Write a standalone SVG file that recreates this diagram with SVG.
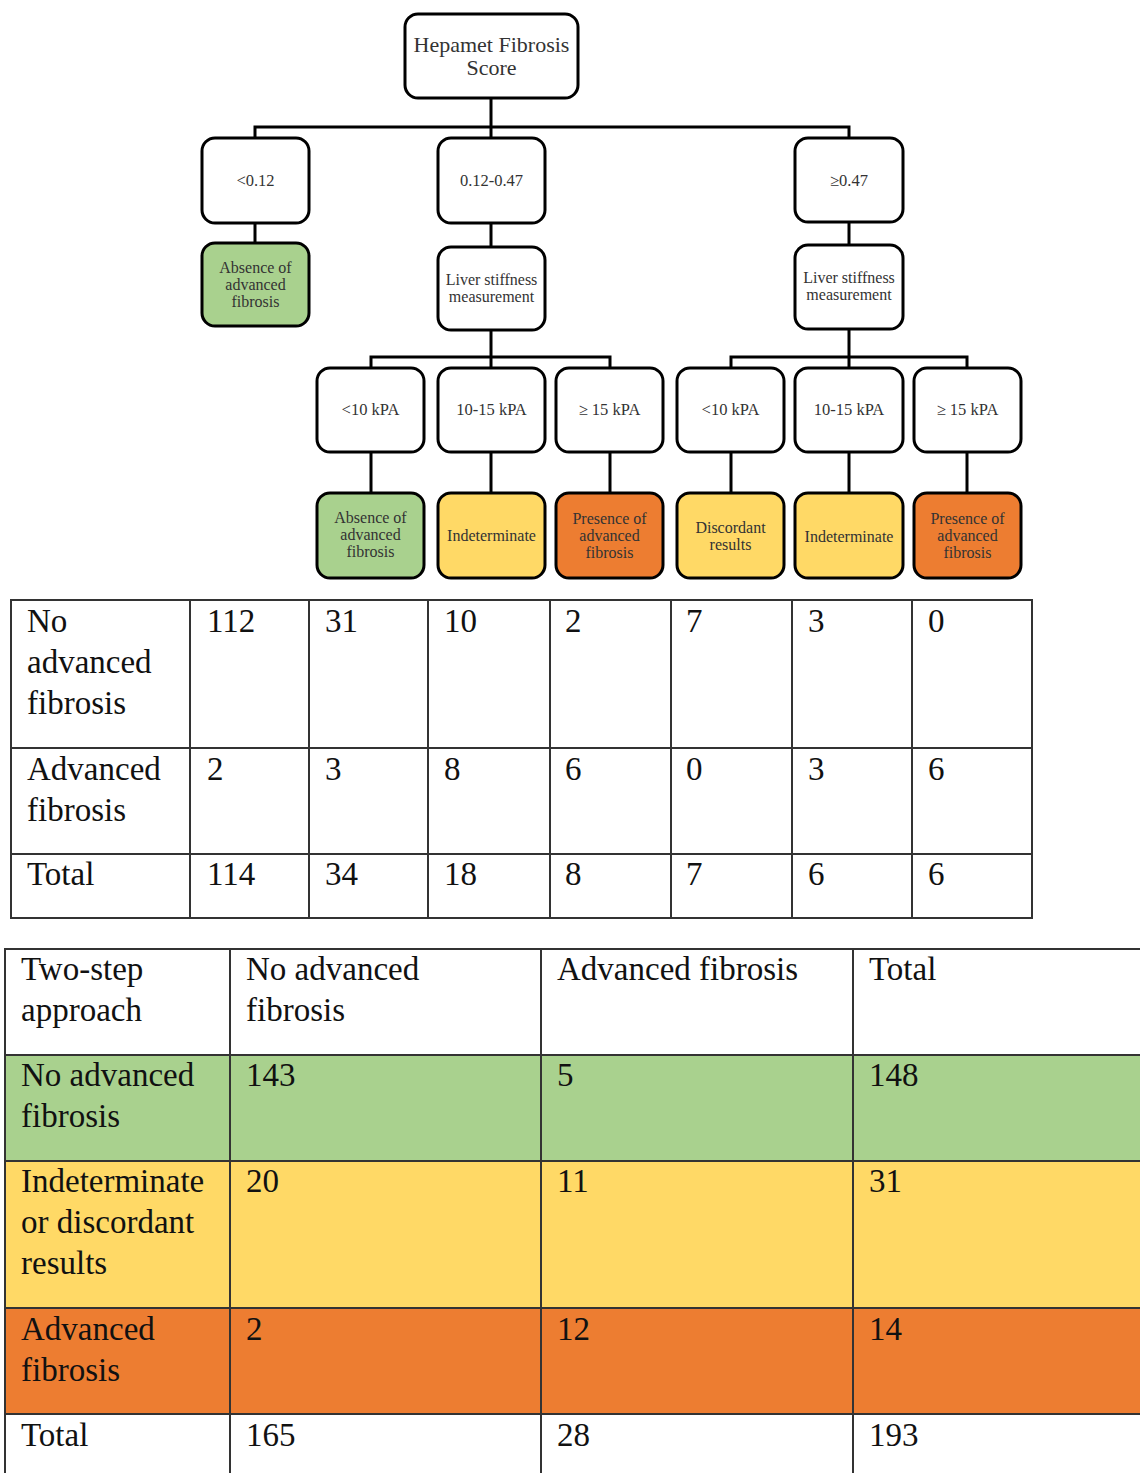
<svg xmlns="http://www.w3.org/2000/svg" width="1140" height="1473" viewBox="0 0 1140 1473">
<style>
.node{fill:#fff;stroke:#000;stroke-width:3}
.g{fill:#a9d18e}.y{fill:#ffd966}.o{fill:#ed7d31}
.nt{font-size:16px;fill:#333;text-anchor:middle}
.s{font-size:16.5px}
.big{font-size:22px}
.conn{fill:none;stroke:#000;stroke-width:3}
.tb{fill:none;stroke:#333;stroke-width:2}
.tt{font-size:33px;fill:#111}
</style>
<rect width="1140" height="1473" fill="#fff"/>
<g id="connectors">
<path class="conn" d="M491,98V127M255,138V127H849V138M491,127V138"/>
<path class="conn" d="M255,223V243M491,223V247M849,222V245"/>
<path class="conn" d="M491,330V357M371,368V357H610V368M491,357V368"/>
<path class="conn" d="M849,329V357M731,368V357H967V368M849,357V368"/>
<path class="conn" d="M371,452V493M491,452V493M610,452V493M731,452V493M849,452V493M967,452V493"/>
</g>
<g font-family="'Liberation Serif', 'Times New Roman', serif">
<g id="root"><rect class="node" x="405" y="14" width="173" height="84" rx="13"/><text class="nt big" x="491.5" y="52">Hepamet Fibrosis</text><text class="nt big" x="491.5" y="75">Score</text></g>
<g id="lt012"><rect class="node" x="202" y="138" width="107" height="85" rx="13"/><text class="nt s" x="255.5" y="186">&lt;0.12</text></g>
<g id="mid"><rect class="node" x="438" y="138" width="107" height="85" rx="13"/><text class="nt s" x="491.5" y="186">0.12-0.47</text></g>
<g id="ge047"><rect class="node" x="795" y="138" width="108" height="84" rx="13"/><text class="nt s" x="849" y="186">≥0.47</text></g>
<g id="absence1"><rect class="node g" x="202" y="243" width="107" height="83" rx="13"/><text class="nt" x="255.5" y="273">Absence of</text><text class="nt" x="255.5" y="290">advanced</text><text class="nt" x="255.5" y="307">fibrosis</text></g>
<g id="lsm1"><rect class="node" x="438" y="247" width="107" height="83" rx="13"/><text class="nt" x="491.5" y="285">Liver stiffness</text><text class="nt" x="491.5" y="302">measurement</text></g>
<g id="lsm2"><rect class="node" x="795" y="245" width="108" height="84" rx="13"/><text class="nt" x="849" y="283">Liver stiffness</text><text class="nt" x="849" y="300">measurement</text></g>
<g id="k1"><rect class="node" x="317" y="368" width="107" height="84" rx="13"/><text class="nt s" x="370.5" y="415">&lt;10 kPA</text></g>
<g id="k2"><rect class="node" x="438" y="368" width="107" height="84" rx="13"/><text class="nt s" x="491.5" y="415">10-15 kPA</text></g>
<g id="k3"><rect class="node" x="556" y="368" width="107" height="84" rx="13"/><text class="nt s" x="609.5" y="415">≥ 15 kPA</text></g>
<g id="k4"><rect class="node" x="677" y="368" width="107" height="84" rx="13"/><text class="nt s" x="730.5" y="415">&lt;10 kPA</text></g>
<g id="k5"><rect class="node" x="795" y="368" width="108" height="84" rx="13"/><text class="nt s" x="849" y="415">10-15 kPA</text></g>
<g id="k6"><rect class="node" x="914" y="368" width="107" height="84" rx="13"/><text class="nt s" x="967.5" y="415">≥ 15 kPA</text></g>
<g id="l1"><rect class="node g" x="317" y="493" width="107" height="85" rx="13"/><text class="nt" x="370.5" y="523">Absence of</text><text class="nt" x="370.5" y="540">advanced</text><text class="nt" x="370.5" y="557">fibrosis</text></g>
<g id="l2"><rect class="node y" x="438" y="493" width="107" height="85" rx="13"/><text class="nt" x="491.5" y="541">Indeterminate</text></g>
<g id="l3"><rect class="node o" x="556" y="493" width="107" height="85" rx="13"/><text class="nt" x="609.5" y="524">Presence of</text><text class="nt" x="609.5" y="541">advanced</text><text class="nt" x="609.5" y="558">fibrosis</text></g>
<g id="l4"><rect class="node y" x="677" y="493" width="107" height="85" rx="13"/><text class="nt" x="730.5" y="533">Discordant</text><text class="nt" x="730.5" y="550">results</text></g>
<g id="l5"><rect class="node y" x="795" y="493" width="108" height="85" rx="13"/><text class="nt" x="849" y="542">Indeterminate</text></g>
<g id="l6"><rect class="node o" x="914" y="493" width="107" height="85" rx="13"/><text class="nt" x="967.5" y="524">Presence of</text><text class="nt" x="967.5" y="541">advanced</text><text class="nt" x="967.5" y="558">fibrosis</text></g>
<g id="table1">
<path class="tb" d="M11,600H1032V918H11ZM11,748H1032M11,854H1032M190,600V918M309,600V918M428,600V918M550,600V918M671,600V918M792,600V918M912,600V918"/>
<g class="tt">
<text x="27" y="632">No</text><text x="27" y="673">advanced</text><text x="27" y="714">fibrosis</text>
<text x="207" y="632">112</text><text x="325" y="632">31</text><text x="444" y="632">10</text><text x="565" y="632">2</text><text x="686" y="632">7</text><text x="808" y="632">3</text><text x="928" y="632">0</text>
<text x="27" y="780">Advanced</text><text x="27" y="821">fibrosis</text>
<text x="207" y="780">2</text><text x="325" y="780">3</text><text x="444" y="780">8</text><text x="565" y="780">6</text><text x="686" y="780">0</text><text x="808" y="780">3</text><text x="928" y="780">6</text>
<text x="27" y="885">Total</text>
<text x="207" y="885">114</text><text x="325" y="885">34</text><text x="444" y="885">18</text><text x="565" y="885">8</text><text x="686" y="885">7</text><text x="808" y="885">6</text><text x="928" y="885">6</text>
</g>
</g>
<g id="table2">
<rect x="5" y="1055" width="1140" height="106" fill="#a9d18e"/>
<rect x="5" y="1161" width="1140" height="147" fill="#ffd966"/>
<rect x="5" y="1308" width="1140" height="106" fill="#ed7d31"/>
<path class="tb" d="M5,1480V949H1150M5,1055H1150M5,1161H1150M5,1308H1150M5,1414H1150M230,949V1480M541,949V1480M853,949V1480"/>
<g class="tt">
<text x="21" y="980">Two-step</text><text x="21" y="1021">approach</text>
<text x="246" y="980">No advanced</text><text x="246" y="1021">fibrosis</text>
<text x="557" y="980">Advanced fibrosis</text>
<text x="869" y="980">Total</text>
<text x="21" y="1086">No advanced</text><text x="21" y="1127">fibrosis</text>
<text x="246" y="1086">143</text><text x="557" y="1086">5</text><text x="869" y="1086">148</text>
<text x="21" y="1192">Indeterminate</text><text x="21" y="1233">or discordant</text><text x="21" y="1274">results</text>
<text x="246" y="1192">20</text><text x="557" y="1192">11</text><text x="869" y="1192">31</text>
<text x="21" y="1340">Advanced</text><text x="21" y="1381">fibrosis</text>
<text x="246" y="1340">2</text><text x="557" y="1340">12</text><text x="869" y="1340">14</text>
<text x="21" y="1446">Total</text>
<text x="246" y="1446">165</text><text x="557" y="1446">28</text><text x="869" y="1446">193</text>
</g>
</g>
</g>
</svg>
